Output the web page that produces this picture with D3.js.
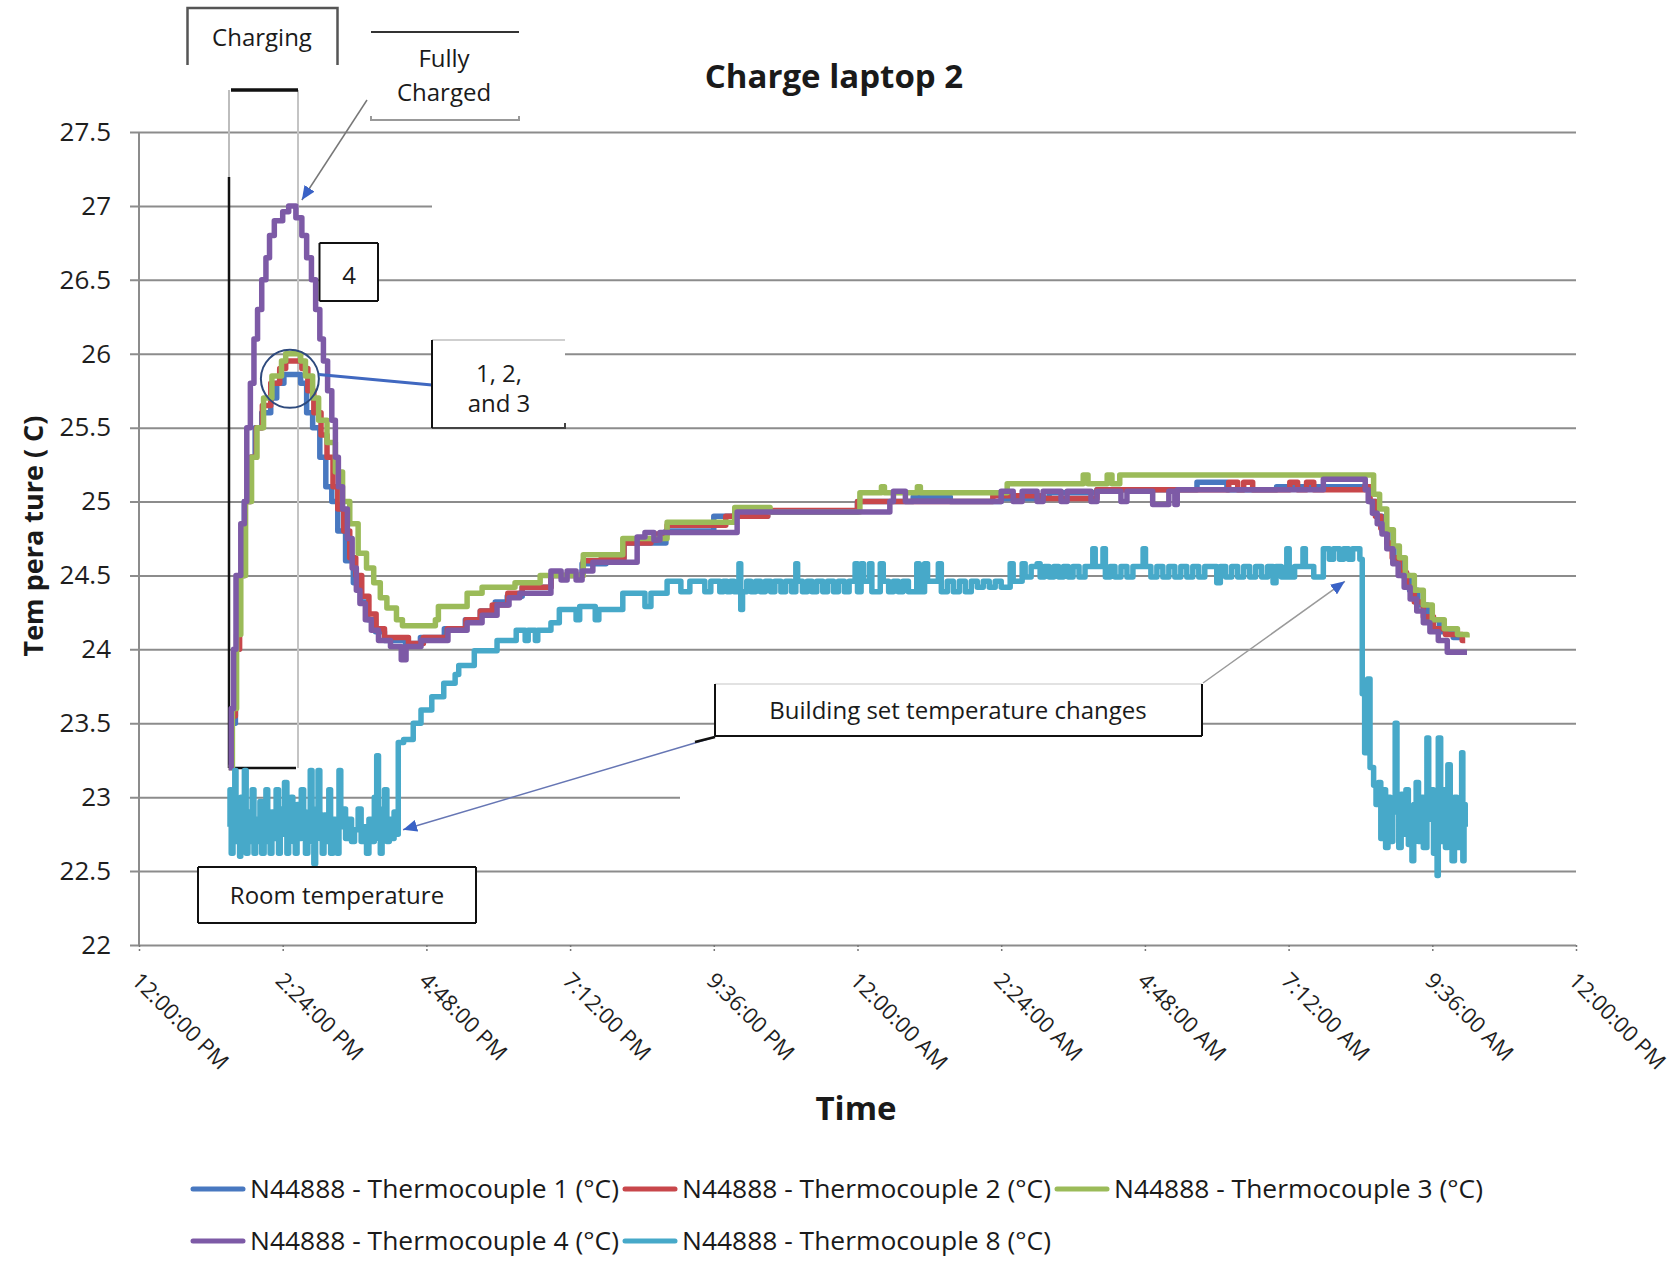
<!DOCTYPE html>
<html>
<head>
<meta charset="utf-8">
<script src="https://cdn.jsdelivr.net/npm/d3@7"></script>
<style>
  body { margin: 0; background: #fff; }
  svg { display: block; font-family: "Open Sans", sans-serif; }
</style>
</head>
<body>
<svg id="grafico" width="1673" height="1267"></svg>
<script>

// horas depois de 12:00 PM -> temperatura (C)
const xTicks = [0, 2.4, 4.8, 7.2, 9.6, 12, 14.4, 16.8, 19.2, 21.6, 24];
const xTickLabels = ["12:00:00 PM", "2:24:00 PM", "4:48:00 PM", "7:12:00 PM", "9:36:00 PM",
    "12:00:00 AM", "2:24:00 AM", "4:48:00 AM", "7:12:00 AM", "9:36:00 AM", "12:00:00 PM"];
const yTicks = [22, 22.5, 23, 23.5, 24, 24.5, 25, 25.5, 26, 26.5, 27, 27.5];

const seriesNames = [
    "N44888 - Thermocouple 1 (°C)", "N44888 - Thermocouple 2 (°C)", "N44888 - Thermocouple 3 (°C)",
    "N44888 - Thermocouple 4 (°C)", "N44888 - Thermocouple 8 (°C)"
];

const tc1 = [[1.50,23.2],[1.55,23.5],[1.61,24.0],[1.67,24.5],[1.76,25.0],[1.86,25.3],[1.94,25.5],[2.05,25.6],
    [2.20,25.7],[2.30,25.8],[2.42,25.86],[2.70,25.8],[2.80,25.6],[2.90,25.5],[3.02,25.3],[3.12,25.1],[3.22,25.0],
    [3.32,24.8],[3.45,24.6],[3.58,24.45],[3.70,24.32],[3.82,24.2],[3.95,24.12],[4.10,24.06],[4.45,24.04],[4.70,24.08],
    [5.10,24.14],[5.45,24.2],[5.70,24.26],[5.95,24.32],[6.15,24.36],[6.40,24.42],[6.88,24.5],[7.40,24.58],[7.80,24.62],
    [8.10,24.72],[8.80,24.8],[9.60,24.9],[10.5,24.93],[12.0,25.0],[12.93,25.03],[13.55,25.0],[14.4,25.02],[15.2,25.06],
    [16.0,25.08],[17.67,25.13],[18.17,25.08],[19.0,25.1],[20.45,25.1],[20.55,25.0],[20.66,24.9],[20.76,24.8],
    [20.86,24.7],[20.96,24.6],[21.08,24.5],[21.22,24.4],[21.36,24.3],[21.52,24.2],[21.72,24.12],[21.95,24.08],[22.13,24.08]];

const tc2 = [[1.50,23.2],[1.55,23.55],[1.61,24.0],[1.68,24.5],[1.77,25.0],[1.87,25.3],[1.96,25.5],[2.06,25.65],
    [2.20,25.8],[2.35,25.9],[2.45,25.95],[2.72,25.9],[2.82,25.75],[2.92,25.6],[3.04,25.45],[3.14,25.3],[3.24,25.1],
    [3.32,24.95],[3.42,24.8],[3.52,24.62],[3.62,24.5],[3.72,24.36],[3.84,24.24],[3.96,24.14],[4.10,24.08],[4.50,24.04],
    [4.75,24.08],[5.15,24.14],[5.46,24.2],[5.70,24.26],[5.90,24.3],[6.16,24.38],[6.40,24.42],[6.88,24.5],[7.42,24.6],
    [7.72,24.62],[8.00,24.6],[8.10,24.72],[8.55,24.74],[8.65,24.78],[8.82,24.84],[9.80,24.9],[10.5,24.94],[12.0,25.0],
    [13.0,25.0],[14.26,25.04],[15.1,25.02],[16.0,25.08],[18.2,25.13],[18.35,25.08],[18.45,25.13],[18.6,25.08],
    [19.22,25.13],[19.35,25.08],[19.5,25.13],[19.62,25.08],[20.47,25.1],[20.56,25.0],[20.65,24.9],[20.74,24.82],
    [20.84,24.72],[20.93,24.62],[21.05,24.52],[21.17,24.42],[21.30,24.32],[21.45,24.22],[21.62,24.14],[21.82,24.1],
    [22.10,24.06],[22.15,24.06]];

const tc3 = [[1.50,23.2],[1.56,23.6],[1.63,24.1],[1.70,24.5],[1.78,25.0],[1.88,25.3],[1.97,25.5],[2.08,25.7],
    [2.22,25.85],[2.38,25.95],[2.45,26.0],[2.70,25.95],[2.78,25.85],[2.90,25.7],[3.00,25.55],[3.14,25.4],[3.28,25.2],
    [3.40,25.0],[3.52,24.85],[3.66,24.65],[3.80,24.55],[3.92,24.45],[4.03,24.35],[4.14,24.28],[4.30,24.2],[4.40,24.16],
    [4.95,24.2],[5.00,24.29],[5.48,24.38],[5.73,24.42],[6.28,24.45],[6.70,24.5],[7.42,24.64],[8.08,24.75],[8.82,24.86],
    [9.95,24.96],[10.54,24.93],[12.04,25.06],[12.40,25.1],[12.45,25.06],[13.00,25.1],[13.05,25.06],[14.50,25.12],
    [15.77,25.18],[15.85,25.12],[16.17,25.18],[16.25,25.12],[16.38,25.18],[20.50,25.18],[20.62,25.05],[20.72,24.95],
    [20.84,24.81],[20.95,24.7],[21.05,24.62],[21.15,24.5],[21.30,24.4],[21.45,24.3],[21.60,24.2],[21.80,24.14],
    [22.02,24.1],[22.18,24.08]];

const tc4 = [[1.50,23.2],[1.54,23.6],[1.58,24.0],[1.62,24.5],[1.70,24.85],[1.76,25.0],[1.80,25.5],[1.86,25.8],
    [1.92,26.1],[1.98,26.3],[2.05,26.5],[2.12,26.65],[2.18,26.8],[2.26,26.9],[2.40,26.96],[2.50,27.0],[2.62,26.92],
    [2.72,26.8],[2.80,26.65],[2.88,26.5],[2.95,26.3],[3.02,26.1],[3.08,25.95],[3.15,25.75],[3.22,25.55],[3.28,25.3],
    [3.33,25.1],[3.40,24.95],[3.48,24.75],[3.56,24.55],[3.63,24.4],[3.69,24.31],[3.78,24.2],[3.88,24.13],[4.00,24.06],
    [4.20,24.02],[4.38,23.93],[4.46,24.02],[4.71,24.06],[5.16,24.13],[5.48,24.18],[5.73,24.23],[5.98,24.3],
    [6.18,24.35],[6.36,24.38],[6.88,24.53],[7.05,24.47],[7.15,24.53],[7.30,24.47],[7.40,24.53],[7.58,24.59],
    [8.32,24.76],[8.45,24.79],[8.60,24.74],[8.70,24.79],[9.99,24.93],[12.54,25.0],[12.60,25.07],[12.80,25.0],
    [14.40,25.07],[14.60,25.0],[14.75,25.07],[15.00,25.0],[15.10,25.07],[15.40,25.0],[15.50,25.07],[15.90,25.0],
    [16.00,25.07],[16.40,25.0],[16.50,25.07],[16.93,24.98],[17.20,25.07],[17.30,24.98],[17.34,25.08],[19.78,25.15],
    [20.48,25.08],[20.53,25.0],[20.60,24.92],[20.68,24.85],[20.76,24.78],[20.84,24.68],[20.94,24.58],[21.03,24.5],
    [21.13,24.42],[21.23,24.34],[21.34,24.26],[21.45,24.18],[21.56,24.12],[21.70,24.06],[21.85,23.98],[22.18,23.98]];

const tc8 = [[1.50,22.80],[1.52,23.05],[1.54,22.62],[1.57,22.95],[1.60,23.18],[1.62,22.70],[1.65,22.88],[1.68,22.60],
    [1.70,23.00],[1.73,22.75],[1.76,23.18],[1.79,22.62],[1.82,22.90],[1.86,22.70],[1.89,23.05],[1.92,22.62],
    [1.95,22.85],[1.99,22.70],[2.02,22.97],[2.05,22.62],[2.09,22.85],[2.12,23.05],[2.15,22.70],[2.19,22.62],
    [2.22,22.90],[2.26,22.72],[2.29,23.05],[2.33,22.62],[2.36,22.92],[2.40,22.75],[2.43,23.10],[2.47,22.62],
    [2.50,22.88],[2.54,23.00],[2.57,22.70],[2.61,22.62],[2.64,22.95],[2.68,22.72],[2.71,23.05],[2.75,22.80],
    [2.78,22.62],[2.82,22.90],[2.86,23.18],[2.89,22.70],[2.92,22.55],[2.95,22.92],[2.99,23.18],[3.02,22.72],
    [3.06,22.62],[3.09,22.88],[3.13,22.70],[3.17,23.05],[3.20,22.62],[3.24,22.85],[3.28,22.72],[3.31,22.62],
    [3.34,23.18],[3.37,22.80],[3.40,22.92],[3.45,22.72],[3.50,22.85],[3.55,22.70],[3.60,22.78],[3.66,22.92],
    [3.71,22.70],[3.76,22.80],[3.80,22.62],[3.84,22.85],[3.89,22.70],[3.93,23.00],[3.97,23.28],[4.00,22.72],
    [4.03,22.62],[4.06,22.92],[4.10,23.05],[4.14,22.70],[4.18,22.85],[4.22,22.72],[4.26,22.90],[4.30,22.75],
    [4.33,23.37],[4.42,23.39],[4.58,23.5],[4.71,23.59],[4.89,23.68],[5.09,23.77],[5.28,23.83],[5.34,23.89],
    [5.60,23.99],[5.98,24.06],[6.30,24.13],[6.45,24.06],[6.50,24.13],[6.62,24.06],[6.66,24.13],[6.88,24.18],
    [7.02,24.27],[7.30,24.2],[7.36,24.29],[7.62,24.2],[7.68,24.27],[8.08,24.38],[8.45,24.29],[8.55,24.38],
    [8.82,24.46],[9.05,24.39],[9.20,24.46],[9.45,24.39],[9.55,24.46],[9.70,24.39],[9.76,24.46],[9.82,24.39],
    [9.88,24.46],[9.94,24.39],[10.02,24.58],[10.05,24.27],[10.08,24.39],[10.15,24.46],[10.22,24.39],[10.30,24.46],
    [10.38,24.39],[10.46,24.46],[10.55,24.39],[10.62,24.46],[10.72,24.39],[10.80,24.46],[10.90,24.39],[10.97,24.58],
    [11.00,24.46],[11.08,24.39],[11.16,24.46],[11.24,24.39],[11.32,24.46],[11.42,24.39],[11.50,24.46],[11.60,24.39],
    [11.68,24.46],[11.78,24.39],[11.86,24.46],[11.96,24.58],[12.00,24.39],[12.06,24.58],[12.10,24.46],[12.20,24.58],
    [12.24,24.39],[12.38,24.58],[12.43,24.46],[12.52,24.39],[12.60,24.46],[12.68,24.39],[12.76,24.46],[12.85,24.39],
    [12.99,24.58],[13.03,24.39],[13.12,24.58],[13.17,24.46],[13.35,24.58],[13.40,24.39],[13.50,24.46],[13.60,24.39],
    [13.70,24.46],[13.80,24.39],[13.90,24.46],[14.00,24.42],[14.10,24.46],[14.20,24.42],[14.30,24.46],[14.40,24.42],
    [14.55,24.58],[14.60,24.46],[14.75,24.58],[14.80,24.49],[14.90,24.56],[15.00,24.58],[15.05,24.49],[15.12,24.56],
    [15.20,24.49],[15.28,24.56],[15.36,24.49],[15.44,24.56],[15.52,24.49],[15.60,24.56],[15.70,24.49],[15.80,24.56],
    [15.93,24.68],[15.97,24.56],[16.10,24.68],[16.14,24.49],[16.22,24.56],[16.30,24.49],[16.40,24.56],[16.50,24.49],
    [16.60,24.56],[16.77,24.68],[16.81,24.56],[16.90,24.49],[17.00,24.56],[17.10,24.49],[17.20,24.56],[17.30,24.49],
    [17.40,24.56],[17.50,24.49],[17.60,24.56],[17.70,24.49],[17.80,24.56],[18.00,24.45],[18.06,24.56],[18.15,24.49],
    [18.25,24.56],[18.35,24.49],[18.45,24.56],[18.55,24.49],[18.65,24.56],[18.75,24.49],[18.85,24.56],[18.94,24.45],
    [18.99,24.56],[19.08,24.49],[19.17,24.68],[19.21,24.49],[19.30,24.56],[19.44,24.68],[19.48,24.56],[19.62,24.49],
    [19.78,24.68],[19.88,24.61],[19.95,24.68],[20.05,24.61],[20.12,24.68],[20.20,24.61],[20.27,24.68],[20.39,24.61],
    [20.43,23.7],[20.47,23.3],[20.52,23.8],[20.56,23.2],[20.62,23.08],[20.66,22.95],[20.70,23.1],[20.74,22.72],
    [20.78,23.05],[20.82,22.66],[20.86,23.0],[20.90,22.7],[20.94,22.9],[20.98,23.5],[21.01,22.9],[21.04,22.66],
    [21.08,23.02],[21.12,22.75],[21.16,23.05],[21.20,22.68],[21.26,22.57],[21.29,22.95],[21.33,23.1],[21.37,22.7],
    [21.41,23.0],[21.45,22.66],[21.51,23.4],[21.54,22.85],[21.58,23.05],[21.62,22.62],[21.68,22.47],[21.70,23.4],
    [21.74,22.7],[21.78,23.05],[21.82,22.66],[21.86,23.22],[21.90,22.8],[21.93,22.57],[21.97,23.0],[22.01,22.66],
    [22.05,22.9],[22.09,23.3],[22.11,22.57],[22.13,22.95],[22.15,22.8]];

const series = [tc1, tc2, tc3, tc4, tc8];
const cores = ["#4878c0", "#c8474b", "#9bbb59", "#7d5aa6", "#47a9c9"];

const svg = d3.select("#grafico");

const x = d3.scaleLinear().domain([0, 24]).range([139, 1576]);
const y = d3.scaleLinear().domain([22, 27.5]).range([945, 132]);

// grade e rotulos do eixo Y
const corteGrade = {27: 432, 23: 680};
const eixoY = svg.append("g")
    .attr("transform", "translate(130,0)")
    .call(d3.axisLeft(y).tickValues(yTicks).tickFormat(d => String(d))
        .tickSize(-(1576 - 130)).tickPadding(19));
eixoY.attr("font-family", null).attr("font-size", null);
eixoY.select(".domain").remove();
eixoY.selectAll(".tick line")
    .attr("stroke", "#8c8c8c")
    .attr("stroke-width", 2)
    .attr("x2", d => (corteGrade[d] ? corteGrade[d] - 130 : 1576 - 130));
eixoY.selectAll(".tick text").attr("font-size", 26).attr("fill", "#1e1e1e");

svg.append("line")
    .attr("x1", 139).attr("x2", 139).attr("y1", 132).attr("y2", 945)
    .attr("stroke", "#8c8c8c").attr("stroke-width", 2);

// eixo X
const eixoX = svg.append("g")
    .attr("transform", "translate(0,945)")
    .call(d3.axisBottom(x).tickValues(xTicks).tickSize(8).tickFormat((d, i) => xTickLabels[i]));
eixoX.attr("font-family", null).attr("font-size", null);
eixoX.select(".domain").remove();
eixoX.selectAll(".tick line").attr("stroke", "#777").attr("stroke-width", 1.5).attr("stroke-dasharray", "2,2");
eixoX.selectAll(".tick text")
    .attr("x", 0).attr("y", 0).attr("dy", null)
    .attr("text-anchor", "start")
    .attr("transform", "translate(-9,37) rotate(45)")
    .attr("font-size", 22)
    .attr("fill", "#1e1e1e");

// marcacao do periodo de carga
const grupoCarga = svg.append("g");
grupoCarga.append("line").attr("x1", 229).attr("x2", 229).attr("y1", 90).attr("y2", 177)
    .attr("stroke", "#bdbdbd").attr("stroke-width", 2);
grupoCarga.append("line").attr("x1", 229).attr("x2", 229).attr("y1", 177).attr("y2", 768)
    .attr("stroke", "#111").attr("stroke-width", 2.5);
grupoCarga.append("line").attr("x1", 298).attr("x2", 298).attr("y1", 90).attr("y2", 768)
    .attr("stroke", "#c4c4c4").attr("stroke-width", 2);
grupoCarga.append("line").attr("x1", 231).attr("x2", 298).attr("y1", 90).attr("y2", 90)
    .attr("stroke", "#111").attr("stroke-width", 3.5);
grupoCarga.append("line").attr("x1", 229).attr("x2", 296).attr("y1", 768).attr("y2", 768)
    .attr("stroke", "#111").attr("stroke-width", 2.5);

// series
const linha = d3.line()
    .x(d => x(d[0]))
    .y(d => y(d[1]))
    .curve(d3.curveStepAfter);

svg.append("g").selectAll("path")
    .data(series)
    .join("path")
    .attr("d", linha)
    .attr("fill", "none")
    .attr("stroke", (d, i) => cores[i])
    .attr("stroke-width", 5.5)
    .attr("stroke-linejoin", "round");

// anotacoes
const defs = svg.append("defs");
defs.append("marker")
    .attr("id", "ponta")
    .attr("markerUnits", "userSpaceOnUse")
    .attr("markerWidth", 16).attr("markerHeight", 12)
    .attr("refX", 14).attr("refY", 6)
    .attr("orient", "auto")
    .append("path")
    .attr("d", "M0,0 L14,6 L0,12 Z")
    .attr("fill", "#3a62c6");

function caixa(x0, y0, x1, y1, bordas) {
    const g = svg.append("g");
    g.append("rect").attr("x", x0).attr("y", y0).attr("width", x1 - x0).attr("height", y1 - y0).attr("fill", "#fff");
    const lados = {
        top: [x0, y0, x1, y0], bottom: [x0, y1, x1, y1],
        left: [x0, y0, x0, y1], right: [x1, y0, x1, y1]
    };
    Object.entries(bordas).forEach(([lado, cor]) => {
        const [a, b, c, e] = lados[lado];
        g.append("line").attr("x1", a).attr("y1", b).attr("x2", c).attr("y2", e)
            .attr("stroke", cor).attr("stroke-width", 2);
    });
    return g;
}

function texto(tx, ty, conteudo, tamanho, peso) {
    return svg.append("text")
        .attr("x", tx).attr("y", ty)
        .attr("text-anchor", "middle")
        .attr("font-size", tamanho)
        .attr("font-weight", peso || "normal")
        .attr("fill", "#1a1a1a")
        .text(conteudo);
}

// "Charging"
svg.append("path").attr("d", "M187.5,65 V8 H337.5 V65")
    .attr("fill", "none").attr("stroke", "#555").attr("stroke-width", 2.5);
texto(262, 46, "Charging", 24);

// "Fully Charged"
svg.append("line").attr("x1", 371).attr("x2", 519).attr("y1", 32).attr("y2", 32)
    .attr("stroke", "#333").attr("stroke-width", 2);
svg.append("path").attr("d", "M371,116 V120 H519 V116")
    .attr("fill", "none").attr("stroke", "#999").attr("stroke-width", 2);
const fully = svg.append("text")
    .attr("text-anchor", "middle")
    .attr("font-size", 24)
    .attr("fill", "#1a1a1a");
fully.append("tspan").attr("x", 444).attr("y", 67).text("Fully");
fully.append("tspan").attr("x", 444).attr("y", 101).text("Charged");
svg.append("line")
    .attr("x1", 367).attr("y1", 100)
    .attr("x2", x(2.72)).attr("y2", y(27.04))
    .attr("stroke", "#777").attr("stroke-width", 1.5)
    .attr("marker-end", "url(#ponta)");

// "4"
caixa(319.5, 243, 378, 301, {top: "#111", bottom: "#111", left: "#111", right: "#111"});
texto(349, 284, "4", 24);

// "1, 2, and 3"
svg.append("circle").attr("cx", x(2.52)).attr("cy", y(25.83)).attr("r", 29)
    .attr("fill", "none").attr("stroke", "#2e4a7d").attr("stroke-width", 2);
svg.append("line").attr("x1", x(2.52) + 29).attr("y1", y(25.86)).attr("x2", 432).attr("y2", 385)
    .attr("stroke", "#4068c0").attr("stroke-width", 3);
caixa(432, 340, 565, 428, {top: "#cfcfcf", bottom: "#444", left: "#111"});
svg.append("line").attr("x1", 565).attr("x2", 565).attr("y1", 423).attr("y2", 429)
    .attr("stroke", "#444").attr("stroke-width", 2);
const rotulo123 = svg.append("text")
    .attr("text-anchor", "middle")
    .attr("font-size", 24)
    .attr("fill", "#1a1a1a");
rotulo123.append("tspan").attr("x", 499).attr("y", 382).text("1, 2,");
rotulo123.append("tspan").attr("x", 499).attr("y", 412).text("and 3");

// "Room temperature"
caixa(198, 867, 476, 923, {top: "#111", bottom: "#111", left: "#111", right: "#111"});
texto(337, 904, "Room temperature", 24);

// "Building set temperature changes"
svg.append("line")
    .attr("x1", 715).attr("y1", 737)
    .attr("x2", x(4.41)).attr("y2", y(22.78))
    .attr("stroke", "#6676b4").attr("stroke-width", 1.5)
    .attr("marker-end", "url(#ponta)");
svg.append("line").attr("x1", 715).attr("y1", 737).attr("x2", 695).attr("y2", 742)
    .attr("stroke", "#111").attr("stroke-width", 2.5);
svg.append("line")
    .attr("x1", 1203).attr("y1", 683)
    .attr("x2", x(20.14)).attr("y2", y(24.46))
    .attr("stroke", "#9a9a9a").attr("stroke-width", 1.5)
    .attr("marker-end", "url(#ponta)");
caixa(715, 684, 1202, 736, {top: "#e2e2e2", bottom: "#111", left: "#111", right: "#111"});
texto(958, 719, "Building set temperature changes", 24);

// titulos
texto(834, 88, "Charge laptop 2", 33, "bold");
texto(856, 1120, "Time", 33, "bold");
svg.append("text")
    .attr("transform", "translate(43,536) rotate(-90)")
    .attr("text-anchor", "middle")
    .attr("font-size", 27)
    .attr("font-weight", "bold")
    .attr("fill", "#1a1a1a")
    .text("Tem pera ture ( C)");

// legenda
const legenda = svg.append("g").selectAll("g")
    .data(seriesNames)
    .join("g")
    .attr("transform", (d, i) => `translate(${193 + (i % 3) * 432},${i < 3 ? 1189 : 1241})`);
legenda.append("line")
    .attr("x1", 0).attr("x2", 50)
    .attr("stroke", (d, i) => cores[i])
    .attr("stroke-width", 5)
    .attr("stroke-linecap", "round");
legenda.append("text")
    .attr("x", 57).attr("y", 8.5)
    .attr("font-size", 25)
    .attr("textLength", 369)
    .attr("lengthAdjust", "spacingAndGlyphs")
    .attr("fill", "#1a1a1a")
    .text(d => d);

</script>
</body>
</html>
